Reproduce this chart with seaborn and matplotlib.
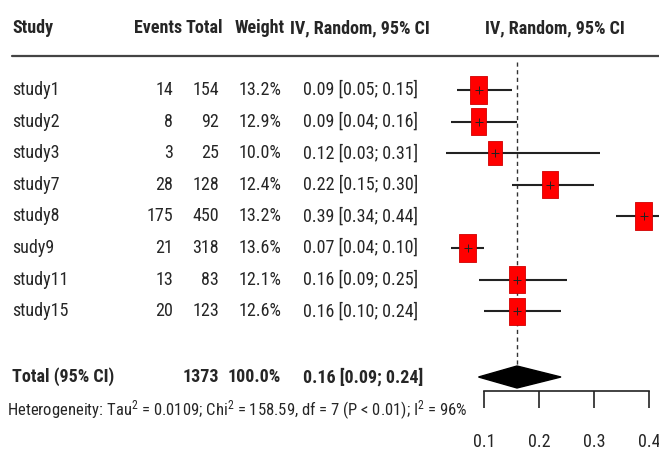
import numpy as np
import pandas as pd
import seaborn as sns
import matplotlib.pyplot as plt
from matplotlib import font_manager
from matplotlib.path import Path

sns.set_style("white")

# the reference uses a narrow Arial-like face; take a condensed one if there is one
names = {f.name for f in font_manager.fontManager.ttflist}
cond = [f for f in font_manager.fontManager.ttflist
        if f.stretch in ("condensed", "semi-condensed", "extra-condensed")
        or (isinstance(f.stretch, int) and f.stretch < 500)]
fam = None
stretch = "normal"
for cand in ["Liberation Sans Narrow", "Arial Narrow", "Roboto Condensed",
             "Open Sans Condensed", "Noto Sans Condensed", "DejaVu Sans Condensed"]:
    if cand in names:
        fam = cand
        break
if fam is None and cond:
    fam = cond[0].name
    stretch = "condensed"
if fam is None:
    fam = "Liberation Sans"
plt.rcParams['font.family'] = [fam, 'Liberation Sans', 'DejaVu Sans']
plt.rcParams['font.stretch'] = stretch
plt.rcParams['mathtext.fontset'] = 'custom'
plt.rcParams['mathtext.rm'] = fam
plt.rcParams['mathtext.it'] = fam

studies = ["study1", "study2", "study3", "study7", "study8", "sudy9", "study11", "study15"]
events = [14, 8, 3, 28, 175, 21, 13, 20]
totals = [154, 92, 25, 128, 450, 318, 83, 123]
weights = [13.2, 12.9, 10.0, 12.4, 13.2, 13.6, 12.1, 12.6]
est = [0.09, 0.09, 0.12, 0.22, 0.39, 0.07, 0.16, 0.16]
lower = [0.05, 0.04, 0.03, 0.15, 0.34, 0.04, 0.09, 0.10]
upper = [0.15, 0.16, 0.31, 0.30, 0.44, 0.10, 0.25, 0.24]
pooled = 0.16
pooled_lo = 0.09
pooled_hi = 0.24
total_n = 1373
xticks = [0.1, 0.2, 0.3, 0.4]

df = pd.DataFrame({"study": studies, "events": events, "total": totals,
                   "weight": weights, "est": est, "lo": lower, "hi": upper})
df["row"] = 90 + np.arange(len(df)) * 31.6

fig = plt.figure(figsize=(6.59, 4.53), dpi=100)

# text columns, in pixel coordinates
axt = fig.add_axes([0, 0, 1, 1])
axt.set_xlim(0, 659)
axt.set_ylim(453, 0)
axt.axis("off")

fs = 13
hy = 28
axt.text(12, hy, "Study", fontsize=fs, fontweight="bold", va="center")
axt.text(182, hy, "Events", fontsize=fs, fontweight="bold", va="center", ha="right")
axt.text(223, hy, "Total", fontsize=fs, fontweight="bold", va="center", ha="right")
axt.text(285, hy, "Weight", fontsize=fs, fontweight="bold", va="center", ha="right")
axt.text(290, hy, "IV, Random, 95% CI", fontsize=fs, fontweight="bold", va="center")
axt.text(555, hy, "IV, Random, 95% CI", fontsize=fs, fontweight="bold", va="center", ha="center")
axt.plot([12, 659], [56, 56], color="#444444", lw=1.6)

for _, r in df.iterrows():
    y = r["row"]
    axt.text(12, y, r["study"], fontsize=fs, va="center")
    axt.text(173, y, str(r["events"]), fontsize=fs, va="center", ha="right")
    axt.text(219, y, str(r["total"]), fontsize=fs, va="center", ha="right")
    axt.text(281, y, f"{r['weight']:.1f}%", fontsize=fs, va="center", ha="right")
    axt.text(303, y, f"{r['est']:.2f} [{r['lo']:.2f}; {r['hi']:.2f}]", fontsize=fs, va="center")

ty = 377
axt.text(12, ty, "Total (95% CI)", fontsize=fs, fontweight="bold", va="center")
axt.text(219, ty, str(total_n), fontsize=fs, fontweight="bold", va="center", ha="right")
axt.text(281, ty, "100.0%", fontsize=fs, fontweight="bold", va="center", ha="right")
axt.text(303, ty, f"{pooled:.2f} [{pooled_lo:.2f}; {pooled_hi:.2f}]", fontsize=fs,
         fontweight="bold", va="center")
axt.text(7, 410, r"Heterogeneity: Tau$^2$ = 0.0109; Chi$^2$ = 158.59, df = 7 (P < 0.01); I$^2$ = 96%",
         fontsize=12, va="center")

# forest panel
x0 = 400
axf = fig.add_axes([x0 / 659, 0, (659 - x0) / 659, 1])
axf.set_xlim(0.1 + (x0 - 484) / 550, 0.1 + (659 - 484) / 550)
axf.set_ylim(453, 0)
axf.patch.set_alpha(0)
for s in ["top", "left", "right"]:
    axf.spines[s].set_visible(False)
axf.set_yticks([])

axf.vlines(pooled, 62, 366, color="#333333", lw=1, linestyles=(0, (3, 2.5)))
axf.hlines(df["row"], df["lo"], df["hi"], color="#222222", lw=1.5)

box = Path([(-0.286, -0.5), (0.286, -0.5), (0.286, 0.5), (-0.286, 0.5), (-0.286, -0.5)],
           [Path.MOVETO, Path.LINETO, Path.LINETO, Path.LINETO, Path.CLOSEPOLY])
sns.scatterplot(data=df, x="est", y="row", size="weight", sizes=(10 * 30.8, 13.6 * 30.8),
                size_norm=(10.0, 13.6), marker=box, color="#ff0000", edgecolor="#d00000",
                linewidth=0.6, legend=False, ax=axf, zorder=3)
axf.scatter(df["est"], df["row"], marker="+", s=30, color="#222222", lw=0.7, zorder=4)

axf.fill([pooled_lo, pooled, pooled_hi, pooled], [ty, ty - 11, ty, ty + 11],
         color="black", zorder=3)

axf.spines["bottom"].set_position(("data", 391))
axf.spines["bottom"].set_bounds(xticks[0], xticks[-1])
axf.spines["bottom"].set_color("#222222")
axf.spines["bottom"].set_linewidth(1.2)
axf.set_xticks(xticks)
axf.set_xticklabels([f"{t:.1f}" for t in xticks], fontsize=fs)
axf.tick_params(axis="x", bottom=True, direction="out", length=12, width=1.2,
                color="#222222", pad=18)
axf.set_xlabel("")
axf.set_ylabel("")

fig.savefig("out.png", dpi=100)
